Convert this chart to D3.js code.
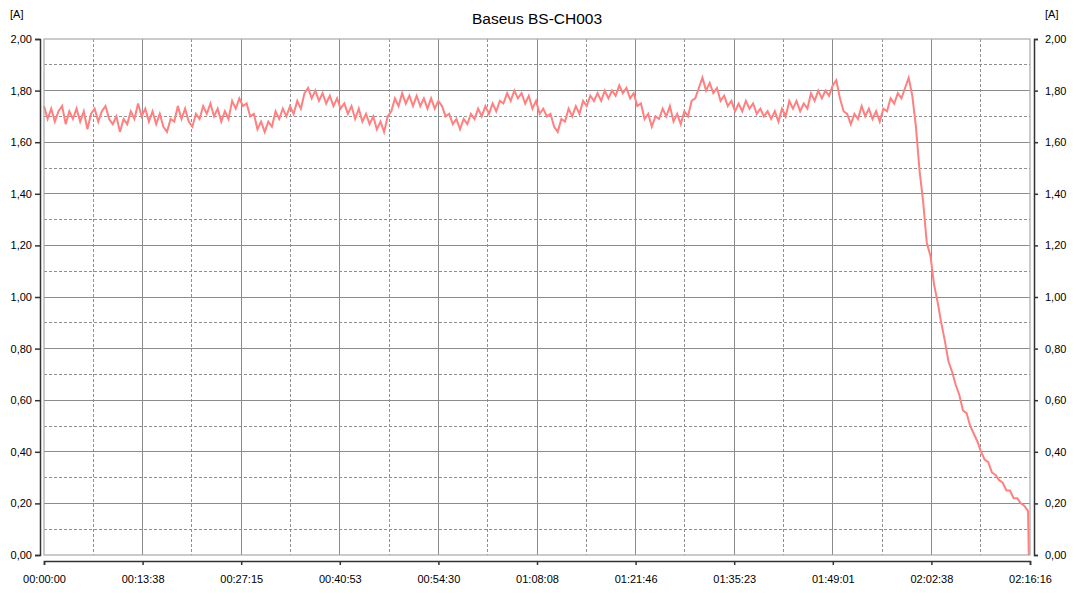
<!DOCTYPE html>
<html><head><meta charset="utf-8">
<script src="https://cdn.jsdelivr.net/npm/d3@7"></script>
<style>
body{margin:0;background:#fff}
svg{display:block}
text{font-family:"Liberation Sans",Arial,sans-serif;fill:#000}
</style>
</head><body>
<svg id="chart" width="1078" height="600"></svg>
<script>
// ---- data ----
const chartTitle = "Baseus BS-CH003";
const unitLabel = "[A]";
const totalSeconds = 8176;          // 02:16:16
const sampleStepSec = 30;           // one reading every 30 s
const current = [
  1.74,1.69,1.73,1.68,1.72,1.74,1.67,1.72,1.69,1.73,
  1.68,1.72,1.65,1.71,1.73,1.68,1.72,1.74,1.69,1.67,
  1.70,1.64,1.69,1.67,1.72,1.69,1.75,1.70,1.73,1.68,
  1.72,1.67,1.71,1.66,1.64,1.69,1.68,1.74,1.69,1.73,
  1.68,1.66,1.71,1.69,1.74,1.71,1.75,1.70,1.73,1.68,
  1.72,1.69,1.76,1.73,1.77,1.74,1.75,1.70,1.71,1.65,
  1.68,1.64,1.68,1.66,1.72,1.69,1.73,1.70,1.74,1.71,
  1.76,1.73,1.79,1.81,1.77,1.80,1.76,1.79,1.75,1.78,
  1.74,1.77,1.73,1.75,1.71,1.74,1.69,1.73,1.68,1.71,
  1.67,1.70,1.65,1.68,1.64,1.70,1.72,1.77,1.74,1.79,
  1.75,1.78,1.74,1.78,1.74,1.77,1.73,1.77,1.73,1.76,
  1.74,1.70,1.71,1.67,1.69,1.65,1.69,1.67,1.71,1.69,
  1.73,1.70,1.74,1.71,1.75,1.72,1.76,1.75,1.79,1.76,
  1.80,1.77,1.79,1.75,1.78,1.73,1.76,1.71,1.73,1.70,
  1.71,1.66,1.64,1.69,1.68,1.73,1.70,1.74,1.71,1.76,
  1.74,1.78,1.76,1.79,1.76,1.80,1.77,1.80,1.78,1.82,
  1.79,1.81,1.77,1.79,1.74,1.75,1.69,1.71,1.66,1.70,
  1.69,1.73,1.70,1.74,1.68,1.71,1.67,1.72,1.70,1.76,
  1.77,1.81,1.85,1.80,1.83,1.79,1.81,1.76,1.78,1.74,
  1.76,1.72,1.75,1.72,1.76,1.73,1.75,1.71,1.73,1.70,
  1.72,1.69,1.72,1.68,1.73,1.70,1.76,1.73,1.76,1.72,
  1.75,1.73,1.79,1.76,1.80,1.77,1.80,1.78,1.82,1.84,
  1.77,1.72,1.71,1.67,1.71,1.69,1.74,1.70,1.73,1.69,
  1.72,1.68,1.73,1.72,1.77,1.75,1.79,1.77,1.81,1.85,
  1.78,1.66,1.49,1.37,1.21,1.16,1.05,0.98,0.90,0.83,
  0.75,0.71,0.66,0.62,0.56,0.55,0.50,0.47,0.44,0.40,
  0.37,0.36,0.32,0.31,0.29,0.28,0.25,0.25,0.22,0.22,
  0.20,0.19,0.17
];
const cutoffSec = 8166;             // charger switched off
const cutoffValue = 0.0;
const xTickLabels = ["00:00:00","00:13:38","00:27:15","00:40:53","00:54:30","01:08:08",
                     "01:21:46","01:35:23","01:49:01","02:02:38","02:16:16"];
const yTickValues = [0,0.2,0.4,0.6,0.8,1.0,1.2,1.4,1.6,1.8,2.0];

// ---- layout ----
const pLeft = 44, pRight = 1030, pTop = 39, pBottom = 555;
const svg = d3.select("#chart");
const x = d3.scaleLinear().domain([0, totalSeconds]).range([pLeft, pRight]);
const y = d3.scaleLinear().domain([0, 2]).range([pBottom, pTop]);

const points = current.map((v, i) => [i * sampleStepSec, v]);
points.push([cutoffSec, cutoffValue]);

const xStep = totalSeconds / (xTickLabels.length - 1);
const xMajor = xTickLabels.map((_, i) => i * xStep);
const xMinor = d3.range(xTickLabels.length - 1).map(i => (i + 0.5) * xStep);
const yMinor = yTickValues.slice(0, -1).map(v => v + 0.1);

const grid = svg.append("g").attr("shape-rendering", "crispEdges");
grid.selectAll(".vmin").data(xMinor).join("line")
  .attr("x1", d => x(d)).attr("x2", d => x(d)).attr("y1", pTop).attr("y2", pBottom)
  .attr("stroke", "#8f8f8f").attr("stroke-dasharray", "3,2");
grid.selectAll(".hmin").data(yMinor).join("line")
  .attr("x1", pLeft).attr("x2", pRight).attr("y1", d => y(d)).attr("y2", d => y(d))
  .attr("stroke", "#8f8f8f").attr("stroke-dasharray", "3,2");
grid.selectAll(".vmaj").data(xMajor.slice(1, -1)).join("line")
  .attr("x1", d => x(d)).attr("x2", d => x(d)).attr("y1", pTop).attr("y2", pBottom)
  .attr("stroke", "#8c8c8c");
grid.selectAll(".hmaj").data(yTickValues.slice(1, -1)).join("line")
  .attr("x1", pLeft).attr("x2", pRight).attr("y1", d => y(d)).attr("y2", d => y(d))
  .attr("stroke", "#8c8c8c");

// data line
svg.append("path").datum(points)
  .attr("fill", "none").attr("stroke", "#ff8080").attr("stroke-width", 2)
  .attr("stroke-linejoin", "miter")
  .attr("d", d3.line().x(d => x(d[0])).y(d => y(d[1])));

// plot frame
svg.append("rect").attr("x", pLeft).attr("y", pTop)
  .attr("width", pRight - pLeft).attr("height", pBottom - pTop)
  .attr("fill", "none").attr("stroke", "#a8a8a8").attr("stroke-width", 1.2);

const fmt = d => d3.format(".2f")(d).replace(".", ",");

function styleAxis(g) {
  g.selectAll("path,line").attr("stroke", "#333").attr("stroke-width", 1.5);
  g.selectAll("text").attr("font-size", 11).attr("fill", "#000")
    .attr("font-family", '"Liberation Sans",Arial,sans-serif');
}

svg.append("g").attr("transform", "translate(40,0)")
  .call(d3.axisLeft(y).tickValues(yTickValues).tickFormat(fmt).tickSize(5).tickPadding(3))
  .call(styleAxis);
svg.append("g").attr("transform", "translate(1034,0)")
  .call(d3.axisRight(y).tickValues(yTickValues).tickFormat(fmt).tickSize(4).tickPadding(7))
  .call(styleAxis);
svg.append("g").attr("transform", "translate(0,561)")
  .call(d3.axisBottom(x).tickValues(xMajor).tickFormat((d, i) => xTickLabels[i]).tickSize(4).tickPadding(10))
  .call(styleAxis);

svg.append("text").attr("x", 10).attr("y", 18).attr("font-size", 11).text(unitLabel);
svg.append("text").attr("x", 1045).attr("y", 18).attr("font-size", 11).text(unitLabel);
svg.append("text").attr("x", 537).attr("y", 24).attr("text-anchor", "middle")
  .attr("font-size", 15.5).text(chartTitle);
</script>
</body></html>
